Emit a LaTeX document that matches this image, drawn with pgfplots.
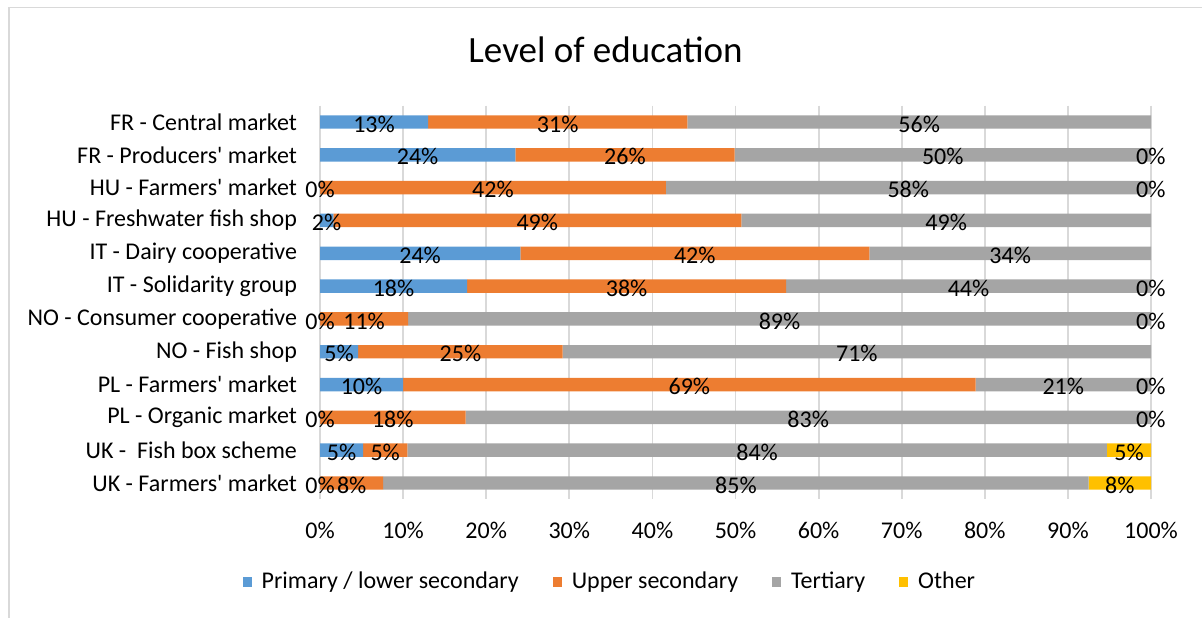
\documentclass[border=0pt]{standalone}
\usepackage{pgfplots}
\pgfplotsset{compat=1.18}
\usepackage{fontspec}
\setmainfont{Carlito}
\definecolor{cPrim}{HTML}{5B9BD5}
\definecolor{cUpp}{HTML}{ED7D31}
\definecolor{cTer}{HTML}{A5A5A5}
\definecolor{cOth}{HTML}{FFC000}
\definecolor{cGrid}{HTML}{D9D9D9}
\newcommand\lblfont{\fontsize{12}{14}\selectfont}

\pgfplotstableread{
c v l
0 13.0 13\%
1 23.5 24\%
2 0.01 0\%
3 1.6 2\%
4 24.1 24\%
5 17.7 18\%
6 0.01 0\%
7 4.6 5\%
8 10.0 10\%
9 0.01 0\%
10 5.2 5\%
11 0.01 0\%
}\primary

\pgfplotstableread{
c v l
0 31.2 31\%
1 26.4 26\%
2 41.6 42\%
3 49.1 49\%
4 42.0 42\%
5 38.4 38\%
6 10.6 11\%
7 24.6 25\%
8 68.9 69\%
9 17.5 18\%
10 5.3 5\%
11 7.6 8\%
}\upper

\pgfplotstableread{
c v l
0 55.8 56\%
1 50.08 50\%
2 58.37 58\%
3 49.3 49\%
4 33.9 34\%
5 43.88 44\%
6 89.37 89\%
7 70.8 71\%
8 21.08 21\%
9 82.47 83\%
10 84.2 84\%
11 84.89 85\%
}\tertiary

\pgfplotstableread{
c v l
0 0 {}
1 0.01 0\%
2 0.01 0\%
3 0 {}
4 0 {}
5 0.01 0\%
6 0.01 0\%
7 0 {}
8 0.01 0\%
9 0.01 0\%
10 5.3 5\%
11 7.5 8\%
}\other

\begin{document}
\begin{tikzpicture}
\path[use as bounding box] (0pt,0pt) rectangle (601pt,308.5pt);
\draw[cGrid, line width=0.9pt] (4.5pt,-1pt) -- (4.5pt,304.75pt) -- (602pt,304.75pt);
\node[anchor=base, font=\fontsize{18.5}{22}\selectfont] at (302.75pt,277.15pt) {Level of education};
\begin{axis}[
  at={(160pt,58.8pt)}, anchor=south west,
  width=415.5pt, height=196.9pt, scale only axis,
  xbar stacked,
  bar width=0.41,
  xmin=0, xmax=100, ymin=-0.5, ymax=11.5,
  enlargelimits=false,
  clip=false,
  y dir=reverse,
  xtick={0,10,...,100},
  xticklabels={0\%,10\%,20\%,30\%,40\%,50\%,60\%,70\%,80\%,90\%,100\%},
  ytick={0,...,11},
  yticklabels={FR - Central market,FR - Producers\textquotesingle\ market,HU - Farmers\textquotesingle\ market,HU - Freshwater fish shop,IT - Dairy cooperative,IT - Solidarity group,NO - Consumer cooperative,NO - Fish shop,PL - Farmers\textquotesingle\ market,PL - Organic market,UK -\ \ Fish box scheme,UK - Farmers\textquotesingle\ market},
  tick label style={font=\lblfont},
  yticklabel style={xshift=-8pt},
  xticklabel style={yshift=-8pt},
  major tick length=0pt,
  axis line style={draw=none},
  xmajorgrids,
  major grid style={cGrid, line width=0.9pt},
  point meta=explicit symbolic,
  nodes near coords={\pgfplotspointmeta},
  every node near coord/.append style={font=\lblfont, anchor=center, text=black, yshift=-1pt},
  legend style={draw=none, at={(0.35,-0.21)}, anchor=center, legend columns=4,
     font=\lblfont,
     /tikz/every odd column/.append style={column sep=3pt},
     /tikz/every even column/.append style={column sep=15pt}},
  legend image code/.code={\fill[#1] (0pt,-2.5pt) rectangle (4.5pt,2.5pt);},
]
\addplot[fill=cPrim, draw=none] table[x=v, y=c, meta=l] {\primary};
\addplot[fill=cUpp, draw=none] table[x=v, y=c, meta=l] {\upper};
\addplot[fill=cTer, draw=none] table[x=v, y=c, meta=l] {\tertiary};
\addplot[fill=cOth, draw=none] table[x=v, y=c, meta=l] {\other};
\legend{Primary / lower secondary, Upper secondary, Tertiary, Other}
\end{axis}
\end{tikzpicture}
\end{document}
